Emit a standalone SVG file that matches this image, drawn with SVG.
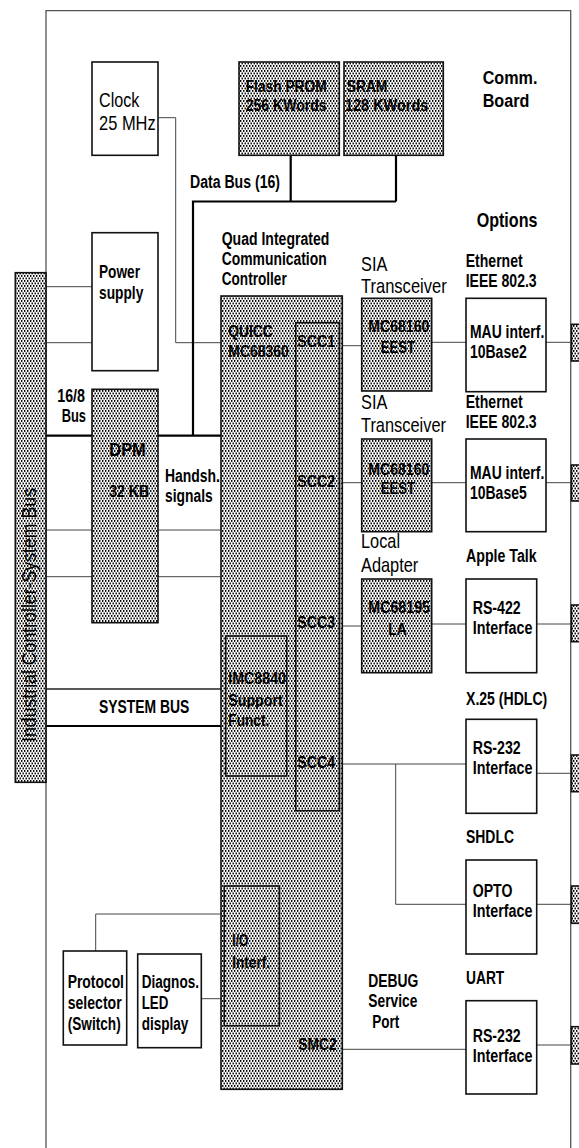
<svg xmlns="http://www.w3.org/2000/svg" width="579" height="1148" viewBox="0 0 579 1148">
<defs>
<pattern id="dots" width="3" height="5" patternUnits="userSpaceOnUse">
<rect width="3" height="5" fill="#fff"/>
<rect x="0" y="0" width="1.4" height="1.9" fill="#000"/>
<rect x="1.5" y="2.5" width="1.4" height="1.9" fill="#000"/>
</pattern>
</defs>
<style>
text{font-family:"Liberation Sans",Arial,sans-serif;fill:#000}
.b{font-weight:bold;font-size:18px}
.s{font-weight:bold;font-size:17px}
.r{font-size:21px}
.box{fill:#fff;stroke:#111;stroke-width:1.6}
.dot{fill:url(#dots);stroke:#111;stroke-width:1.6}
.ln{stroke:#444;stroke-width:1;fill:none}
.bus{stroke:#000;stroke-width:2.2;fill:none}
.edge{stroke:#555;stroke-width:1.3;fill:none}
</style>
<rect width="579" height="1148" fill="#fff"/>
<g id="board">
<path class="edge" d="M46,1148 V10.7 H570.7 V1148"/>
</g>
<g id="connectors">
<path class="ln" d="M158,117.7 H175.7 V342.7 H221"/>
<path class="bus" d="M193,435.7 V201.5 H396 M290.7,155.3 V201.5 M396,155.3 V201.5"/>
<path class="ln" d="M46,286.7 H92 M46,342.7 H92"/>
<path class="bus" d="M46,435.7 H221"/>
<path class="ln" d="M46,530 H221 M46,576.7 H221"/>
<path class="ln" style="stroke:#222;stroke-width:1.4" d="M46,689 H221"/>
<path class="bus" d="M46,726 H221"/>
<path class="ln" d="M95.7,951 V914 H221 M201.3,998.7 H221"/>
<path class="ln" d="M339.3,345.7 H361.7 M431.7,342.3 H466 M546,342.3 H570.7"/>
<path class="ln" d="M339.3,482.7 H361.7 M431.7,482.7 H466 M546,482.7 H570.7"/>
<path class="ln" d="M339.3,626 H361.7 M431.7,624 H466 M536.7,624 H570.7"/>
<path class="ln" d="M339.3,764 H466 M395.7,764 V904.3 H466 M536.7,773.3 H570.7 M536.7,904.3 H570.7"/>
<path class="ln" d="M342.3,1049.3 H466 M536.7,1045 H570.7"/>
</g>
<g id="sysbus-bar">
<rect class="dot" x="15.3" y="272.7" width="30.7" height="509.6"/>
<text class="r" transform="translate(36,742) rotate(-90)" textLength="254" lengthAdjust="spacingAndGlyphs">Industrial Controller-System Bus</text>
</g>
<g id="clock">
<rect class="box" x="92" y="62" width="66" height="93.3"/>
<text class="r" x="99" y="107" textLength="40.3" lengthAdjust="spacingAndGlyphs">Clock</text>
<text class="r" x="99" y="130" textLength="56.7" lengthAdjust="spacingAndGlyphs">25 MHz</text>
</g>
<g id="flash">
<rect class="dot" x="239" y="62" width="100.3" height="93.3"/>
<text class="s" x="245.7" y="92" textLength="81" lengthAdjust="spacingAndGlyphs">Flash PROM</text>
<text class="s" x="245.7" y="111" textLength="81" lengthAdjust="spacingAndGlyphs">256 KWords</text>
</g>
<g id="sram">
<rect class="dot" x="344" y="62" width="99.3" height="93.3"/>
<text class="s" x="346.7" y="92" textLength="40.7" lengthAdjust="spacingAndGlyphs">SRAM</text>
<text class="s" x="345" y="111" textLength="83.3" lengthAdjust="spacingAndGlyphs">128 KWords</text>
</g>
<g id="power">
<rect class="box" x="92" y="232.7" width="66" height="138"/>
<text class="b" x="99" y="278" textLength="41" lengthAdjust="spacingAndGlyphs">Power</text>
<text class="b" x="99" y="299.3" textLength="44.3" lengthAdjust="spacingAndGlyphs">supply</text>
</g>
<g id="dpm">
<rect class="dot" x="92" y="389.3" width="66" height="233.4"/>
<text class="b" x="109.3" y="456" textLength="36.4" lengthAdjust="spacingAndGlyphs">DPM</text>
<text class="s" x="109.3" y="496.7" textLength="39.7" lengthAdjust="spacingAndGlyphs">32 KB</text>
</g>
<g id="quicc">
<rect class="dot" x="221" y="296" width="121.3" height="793.3"/>
<text class="s" x="228.3" y="336.7" textLength="44.4" lengthAdjust="spacingAndGlyphs">QUICC</text>
<text class="s" x="228.3" y="356.7" textLength="60.4" lengthAdjust="spacingAndGlyphs">MC68360</text>
</g>
<g id="scc-column">
<rect class="dot" x="295.7" y="322.7" width="43.6" height="488"/>
<text class="s" x="297.3" y="346.7" textLength="37.7" lengthAdjust="spacingAndGlyphs">SCC1</text>
<text class="s" x="297.3" y="486.7" textLength="37.7" lengthAdjust="spacingAndGlyphs">SCC2</text>
<text class="s" x="297.3" y="627.7" textLength="37.7" lengthAdjust="spacingAndGlyphs">SCC3</text>
<text class="s" x="297.3" y="768.3" textLength="37.7" lengthAdjust="spacingAndGlyphs">SCC4</text>
<text class="s" x="298.3" y="1050" textLength="38.4" lengthAdjust="spacingAndGlyphs">SMC2</text>
</g>
<g id="imc8840">
<rect class="dot" x="225.7" y="636" width="61" height="140"/>
<text class="s" x="228.3" y="684" textLength="57.7" lengthAdjust="spacingAndGlyphs">IMC8840</text>
<text class="s" x="228.3" y="705.7" textLength="54.4" lengthAdjust="spacingAndGlyphs">Support</text>
<text class="s" x="228.3" y="725.7" textLength="41" lengthAdjust="spacingAndGlyphs">Funct.</text>
</g>
<g id="io-interf">
<rect class="dot" x="224.3" y="886" width="55" height="139.7"/>
<text class="s" x="232.3" y="946" textLength="16" lengthAdjust="spacingAndGlyphs">I/O</text>
<text class="s" x="232.3" y="967.7" textLength="37.7" lengthAdjust="spacingAndGlyphs">Interf.</text>
</g>
<g id="eest1">
<rect class="dot" x="361.7" y="298.3" width="70" height="92.7"/>
<text class="s" x="368.3" y="331.7" textLength="61" lengthAdjust="spacingAndGlyphs">MC68160</text>
<text class="s" x="380.7" y="353.3" textLength="34.3" lengthAdjust="spacingAndGlyphs">EEST</text>
</g>
<g id="eest2">
<rect class="dot" x="361.7" y="439" width="70" height="92.7"/>
<text class="s" x="368.3" y="475" textLength="61" lengthAdjust="spacingAndGlyphs">MC68160</text>
<text class="s" x="380.7" y="494" textLength="34.3" lengthAdjust="spacingAndGlyphs">EEST</text>
</g>
<g id="la">
<rect class="dot" x="361.7" y="579" width="70" height="93.7"/>
<text class="s" x="368.3" y="613.3" textLength="61.7" lengthAdjust="spacingAndGlyphs">MC68195</text>
<text class="s" x="388.3" y="635" textLength="18.3" lengthAdjust="spacingAndGlyphs">LA</text>
</g>
<g id="mau1">
<rect class="box" x="466" y="298.3" width="80" height="93.4"/>
<text class="b" x="470" y="338.3" textLength="74.3" lengthAdjust="spacingAndGlyphs">MAU interf.</text>
<text class="b" x="470" y="358.3" textLength="56.7" lengthAdjust="spacingAndGlyphs">10Base2</text>
</g>
<g id="mau2">
<rect class="box" x="466" y="439" width="80" height="92.7"/>
<text class="b" x="470" y="479.3" textLength="74.3" lengthAdjust="spacingAndGlyphs">MAU interf.</text>
<text class="b" x="470" y="499" textLength="56.7" lengthAdjust="spacingAndGlyphs">10Base5</text>
</g>
<g id="rs422">
<rect class="box" x="466" y="579" width="70.7" height="93.7"/>
<text class="b" x="472.7" y="614" textLength="48" lengthAdjust="spacingAndGlyphs">RS-422</text>
<text class="b" x="472.7" y="634" textLength="59.7" lengthAdjust="spacingAndGlyphs">Interface</text>
</g>
<g id="rs232-hdlc">
<rect class="box" x="466" y="719.3" width="70.7" height="94"/>
<text class="b" x="472.7" y="754" textLength="48" lengthAdjust="spacingAndGlyphs">RS-232</text>
<text class="b" x="472.7" y="774" textLength="59.7" lengthAdjust="spacingAndGlyphs">Interface</text>
</g>
<g id="opto">
<rect class="box" x="466" y="860" width="70.7" height="94"/>
<text class="b" x="472.7" y="897.3" textLength="39.7" lengthAdjust="spacingAndGlyphs">OPTO</text>
<text class="b" x="472.7" y="917.3" textLength="59.7" lengthAdjust="spacingAndGlyphs">Interface</text>
</g>
<g id="rs232-uart">
<rect class="box" x="466" y="1000.7" width="70.7" height="93.3"/>
<text class="b" x="472.7" y="1041.7" textLength="48" lengthAdjust="spacingAndGlyphs">RS-232</text>
<text class="b" x="472.7" y="1061.7" textLength="59.7" lengthAdjust="spacingAndGlyphs">Interface</text>
</g>
<g id="protocol">
<rect class="box" x="63.3" y="951" width="63.4" height="94"/>
<text class="b" x="67.7" y="988.3" textLength="56.3" lengthAdjust="spacingAndGlyphs">Protocol</text>
<text class="b" x="67.7" y="1009.3" textLength="54" lengthAdjust="spacingAndGlyphs">selector</text>
<text class="b" x="67.7" y="1030" textLength="53" lengthAdjust="spacingAndGlyphs">(Switch)</text>
</g>
<g id="diagnos">
<rect class="box" x="137.7" y="954" width="63.6" height="93.7"/>
<text class="b" x="141.7" y="988.3" textLength="57.3" lengthAdjust="spacingAndGlyphs">Diagnos.</text>
<text class="b" x="141.7" y="1009.3" textLength="26.7" lengthAdjust="spacingAndGlyphs">LED</text>
<text class="b" x="141.7" y="1030" textLength="46.7" lengthAdjust="spacingAndGlyphs">display</text>
</g>
<g id="stubs">
<rect class="dot" x="571.5" y="324.3" width="10" height="36.7"/>
<rect class="dot" x="571.5" y="465" width="10" height="36"/>
<rect class="dot" x="571.5" y="605" width="10" height="36.7"/>
<rect class="dot" x="571.5" y="755" width="10" height="36.7"/>
<rect class="dot" x="571.5" y="886" width="10" height="37.3"/>
<rect class="dot" x="571.5" y="1026.7" width="10" height="37.3"/>
</g>
<g id="labels">
<text class="b" x="482.7" y="84" textLength="54.7" lengthAdjust="spacingAndGlyphs">Comm.</text>
<text class="b" x="482.7" y="106.7" textLength="46.7" lengthAdjust="spacingAndGlyphs">Board</text>
<text class="b" style="font-size:21px" x="476.7" y="226.7" textLength="60.7" lengthAdjust="spacingAndGlyphs">Options</text>
<text class="b" x="190" y="187.7" textLength="90" lengthAdjust="spacingAndGlyphs">Data Bus (16)</text>
<text class="b" x="221.7" y="245" textLength="107.6" lengthAdjust="spacingAndGlyphs">Quad Integrated</text>
<text class="b" x="221.7" y="265" textLength="105" lengthAdjust="spacingAndGlyphs">Communication</text>
<text class="b" x="221.7" y="285" textLength="65" lengthAdjust="spacingAndGlyphs">Controller</text>
<text class="b" x="465.7" y="266.7" textLength="57" lengthAdjust="spacingAndGlyphs">Ethernet</text>
<text class="b" x="465.7" y="286.7" textLength="71" lengthAdjust="spacingAndGlyphs">IEEE 802.3</text>
<text class="b" x="465.7" y="408.3" textLength="57" lengthAdjust="spacingAndGlyphs">Ethernet</text>
<text class="b" x="465.7" y="428.3" textLength="71" lengthAdjust="spacingAndGlyphs">IEEE 802.3</text>
<text class="b" x="466" y="562.3" textLength="70.7" lengthAdjust="spacingAndGlyphs">Apple Talk</text>
<text class="b" x="466" y="705" textLength="81.3" lengthAdjust="spacingAndGlyphs">X.25 (HDLC)</text>
<text class="b" x="466" y="843.3" textLength="48" lengthAdjust="spacingAndGlyphs">SHDLC</text>
<text class="b" x="466" y="984" textLength="38.3" lengthAdjust="spacingAndGlyphs">UART</text>
<text class="r" x="361" y="270.7" textLength="26.3" lengthAdjust="spacingAndGlyphs">SIA</text>
<text class="r" x="361" y="293.3" textLength="85.7" lengthAdjust="spacingAndGlyphs">Transceiver</text>
<text class="r" x="361" y="409" textLength="26.3" lengthAdjust="spacingAndGlyphs">SIA</text>
<text class="r" x="361" y="431.7" textLength="85" lengthAdjust="spacingAndGlyphs">Transceiver</text>
<text class="r" x="361" y="548.3" textLength="39" lengthAdjust="spacingAndGlyphs">Local</text>
<text class="r" x="361" y="571.7" textLength="57.3" lengthAdjust="spacingAndGlyphs">Adapter</text>
<text class="b" x="57.3" y="401.7" textLength="27.7" lengthAdjust="spacingAndGlyphs">16/8</text>
<text class="b" x="61.7" y="421.7" textLength="24.3" lengthAdjust="spacingAndGlyphs">Bus</text>
<text class="b" x="165" y="481.7" textLength="55" lengthAdjust="spacingAndGlyphs">Handsh.</text>
<text class="b" x="165" y="501.7" textLength="47.7" lengthAdjust="spacingAndGlyphs">signals</text>
<text class="b" style="font-size:19px" x="99" y="712.7" textLength="90.3" lengthAdjust="spacingAndGlyphs">SYSTEM BUS</text>
<text class="b" x="368.3" y="986.7" textLength="50" lengthAdjust="spacingAndGlyphs">DEBUG</text>
<text class="b" x="368.3" y="1007.3" textLength="49" lengthAdjust="spacingAndGlyphs">Service</text>
<text class="b" x="372.3" y="1028.3" textLength="27" lengthAdjust="spacingAndGlyphs">Port</text>
</g>
</svg>
